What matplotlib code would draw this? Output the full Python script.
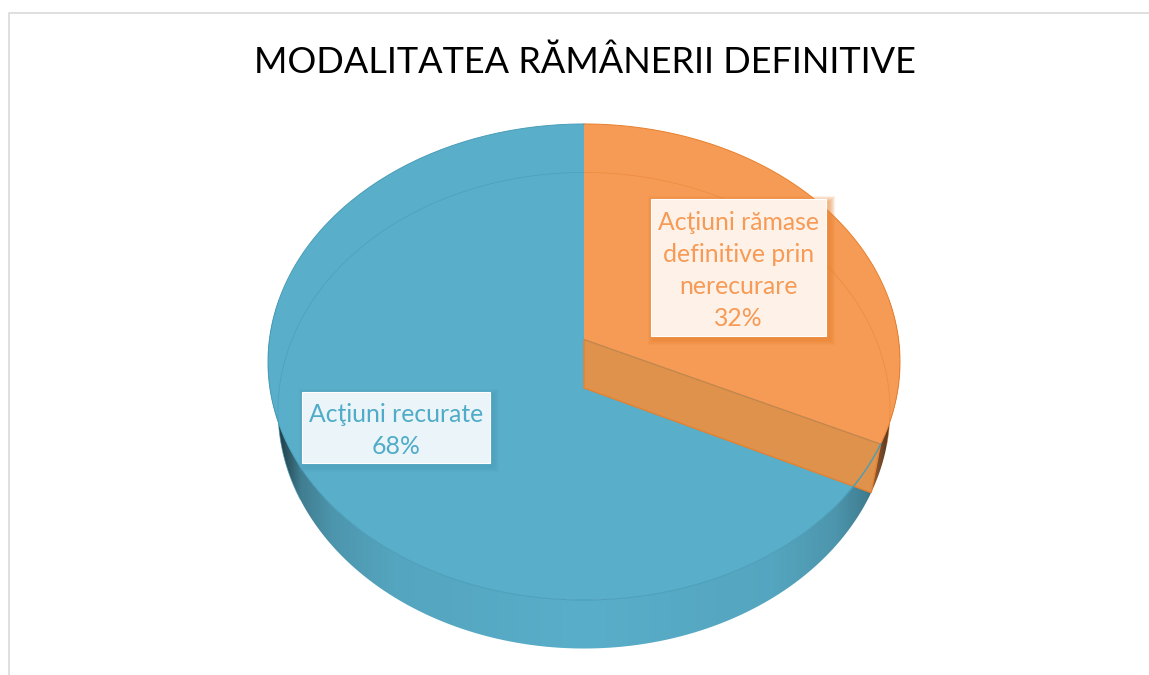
import numpy as np
import matplotlib
matplotlib.use('Agg')
from matplotlib import pyplot as plt
from matplotlib.patches import Polygon, Rectangle

title = 'MODALITATEA RĂMÂNERII DEFINITIVE'
categories = ['Acţiuni rămase\ndefinitive prin\nnerecurare', 'Acţiuni recurate']
values = [32, 68]
colors = ['#F59B56', '#59AEC9']
edge_colors = ['#E8802C', '#4A9DB8']
text_colors = ['#F79A55', '#4FACC8']
box_fill = ['#FDF1E8', '#EBF4F8']

# pie geometry in pixels
CX = 584
TOP_Y = 339.5
BOTTOM_Y = 388
RX_TOP = 314.6
RX_BOTTOM = 304.6
RY = 235.9
PERSP = 0.0945


def project(theta, cy, rx):
    # theta is clockwise from 12 o'clock, in degrees
    t = np.radians(theta)
    u, v = np.sin(t), np.cos(t)
    w = 1 + PERSP * v
    return CX + rx * u / w, cy - RY * v / w


def rim(start, stop, cy, rx, n=200):
    x, y = project(np.linspace(start, stop, n), cy, rx)
    return np.column_stack([x, y])


def wall_gradient(color):
    # horizontal shading of the side wall, darker towards the silhouette
    u = np.linspace(-1.02, 1.02, 640)
    f = np.interp(np.abs(u), [0, 0.6, 0.8, 0.9, 0.96, 1.02], [1, 0.95, 0.86, 0.72, 0.4, 0.3])
    rgb = np.array(matplotlib.colors.to_rgb(color))
    return (f[None, :, None] * rgb).clip(0, 1)


fig = plt.figure(figsize=(11.49, 6.75), dpi=100)
ax = fig.add_axes([0, 0, 1, 1])

# chart frame
ax.plot([9, 9, 1149], [675, 13, 13], color='#D9D9D9', lw=1.2)

ax.text(585, 73, title, ha='center', va='baseline', fontsize=26, family='Lato', color='black')

angles = np.cumsum([0] + values) / sum(values) * 360

# outer wall
for i, color in enumerate(colors):
    outline = np.vstack([rim(angles[i], angles[i + 1], TOP_Y, RX_TOP),
                         rim(angles[i + 1], angles[i], BOTTOM_Y, RX_BOTTOM)])
    clip = Polygon(outline, closed=True, transform=ax.transData, facecolor='none', edgecolor='none')
    ax.add_patch(clip)
    half = 1.02 * RX_TOP
    im = ax.imshow(wall_gradient(color), extent=(CX - half, CX + half, 660, 300), aspect='auto', zorder=1)
    im.set_clip_path(clip)

# top face
for i, color in enumerate(colors):
    pts = np.vstack([[CX, TOP_Y], rim(angles[i], angles[i + 1], TOP_Y, RX_TOP)])
    ax.add_patch(Polygon(pts, closed=True, facecolor=color, edgecolor='none', zorder=2))
    ax.plot(*rim(angles[i], angles[i + 1], TOP_Y, RX_TOP).T, color=edge_colors[i], lw=0.7, zorder=3)

# cut face of the orange slice, seen through the top
cut = np.array([[CX, TOP_Y], project(angles[1], TOP_Y, RX_TOP),
                project(angles[1], BOTTOM_Y, RX_BOTTOM), [CX, BOTTOM_Y]])
ax.add_patch(Polygon(cut, closed=True, facecolor='#DE924C', edgecolor=edge_colors[0], lw=0.9, zorder=3))
ax.plot(*cut[:2].T, color=edge_colors[1], lw=0.6, alpha=0.35, zorder=3)
ax.plot(*rim(angles[1], angles[1] + 13, TOP_Y, RX_TOP).T, color=edge_colors[1], lw=1, zorder=3)

# bottom rim showing faintly through the top face
ax.plot(*rim(angles[0], angles[1], BOTTOM_Y, RX_BOTTOM)[:180].T, color=edge_colors[0], lw=0.6, alpha=0.5, zorder=3)
ax.plot(*rim(angles[1] + 128, angles[2], BOTTOM_Y, RX_BOTTOM).T, color=edge_colors[1], lw=0.6, alpha=0.7, zorder=3)

# labels
boxes = [(651, 199, 175, 137), (302, 392, 188, 71)]
for i, (x, y, w, h) in enumerate(boxes):
    for k in range(1, 7):
        ax.add_patch(Rectangle((x + 3 - k, y + 3 - k), w + 2 * k, h + 2 * k,
                               facecolor=edge_colors[i], edgecolor='none', alpha=0.12, zorder=4))
    ax.add_patch(Rectangle((x, y), w, h, facecolor=box_fill[i], edgecolor='white', lw=0.8, zorder=4))
    ax.text(x + w / 2, y + h / 2 + 3, f'{categories[i]}\n{values[i]}%', ha='center', va='center',
            fontsize=17.8, family='Lato', color=text_colors[i], linespacing=1.47, zorder=5)

ax.set_xlim(0, 1149)
ax.set_ylim(675, 0)
ax.axis('off')

plt.savefig('out.png', dpi=100)
plt.close()
